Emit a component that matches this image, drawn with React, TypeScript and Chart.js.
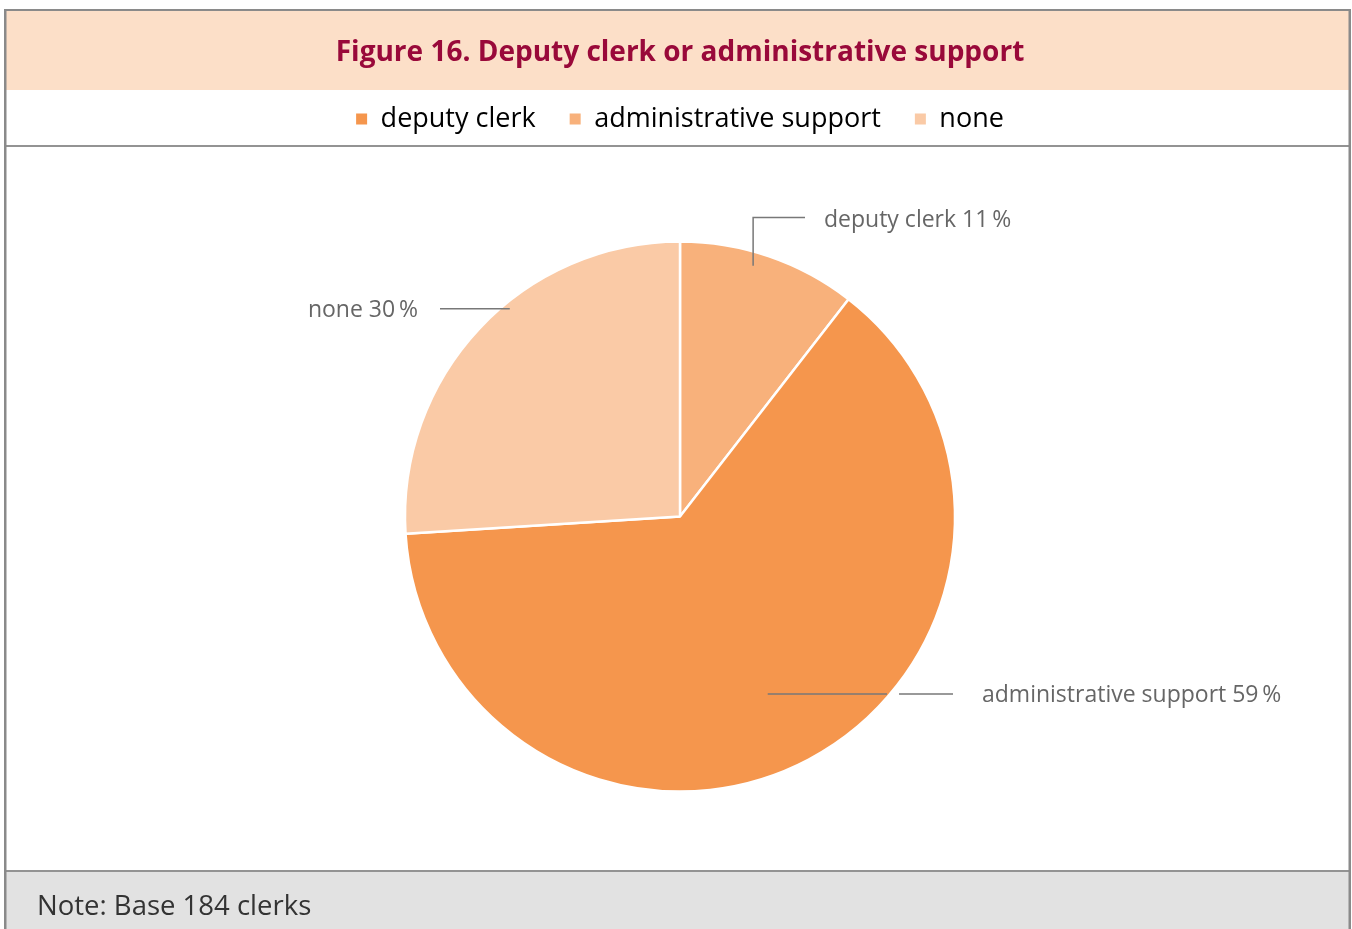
import React, { useEffect, useRef } from 'react';
import { Chart, registerables } from 'chart.js';

Chart.register(...registerables);

// ---- data ----
const categories = ['deputy clerk', 'administrative support', 'none'];
const shares = [10.5, 63.5, 26]; // slice sizes as drawn
const shareLabels = ['11\u2009%', '59\u2009%', '30\u2009%']; // printed labels
const sliceColors = ['#F8B17B', '#F5964D', '#FACAA6'];
const legendColors = ['#F5964D', '#F8B17B', '#FACAA6'];
const titleText = 'Figure 16. Deputy clerk or administrative support';
const noteText = 'Note: Base 184 clerks';

const FONT = "'Open Sans', 'Noto Sans', sans-serif";

const framePlugin = {
  id: 'frame',
  beforeDraw(chart: any) {
    const { ctx, width, height } = chart;
    ctx.save();
    ctx.fillStyle = '#ffffff';
    ctx.fillRect(0, 0, width, height);
    ctx.fillStyle = '#FCDFC8';
    ctx.fillRect(6, 11, 1343, 79);
    ctx.fillStyle = '#E2E2E2';
    ctx.fillRect(6, 871, 1343, 58);
    ctx.fillStyle = '#939393';
    ctx.fillRect(6, 145, 1343, 2);
    ctx.fillRect(6, 870, 1343, 2);
    ctx.fillStyle = '#8a8a8a';
    ctx.fillRect(4, 9, 1347, 2);
    ctx.fillRect(4, 9, 2.5, height - 9);
    ctx.fillRect(1348.5, 9, 2.5, height - 9);
    ctx.restore();
  },
};

const leaderSpecs = [
  { t: 0.43, rf: 0.95, kind: 'up' },
  { t: 0.507, rf: 0.72, kind: 'right' },
  { t: 0.58, rf: 0.977, kind: 'left' },
];

const leaderPlugin = {
  id: 'leaders',
  afterDatasetsDraw(chart: any) {
    const { ctx } = chart;
    const meta = chart.getDatasetMeta(0);
    ctx.save();
    ctx.strokeStyle = '#787878';
    ctx.lineWidth = 1.5;
    ctx.fillStyle = '#666666';
    ctx.font = `23px ${FONT}`;
    ctx.textBaseline = 'middle';
    meta.data.forEach((arc: any, i: number) => {
      const p = arc.getProps(['x', 'y', 'startAngle', 'endAngle', 'outerRadius'], true);
      const spec = leaderSpecs[i];
      const cx = p.x, cy = p.y, r = p.outerRadius;
      const a = p.startAngle + spec.t * (p.endAngle - p.startAngle);
      const ax = cx + Math.cos(a) * r * spec.rf;
      const ay = cy + Math.sin(a) * r * spec.rf;
      const label = `${categories[i]} ${shareLabels[i]}`;
      ctx.beginPath();
      if (spec.kind === 'up') {
        const ey = cy - r - 24;
        ctx.moveTo(ax, ay);
        ctx.lineTo(ax, ey);
        ctx.lineTo(cx + 125, ey);
        ctx.stroke();
        ctx.textAlign = 'left';
        ctx.fillText(label, cx + 144, ey + 2.5);
      } else if (spec.kind === 'right') {
        const edge = cx + Math.sqrt(Math.max(r * r - (ay - cy) * (ay - cy), 0));
        ctx.moveTo(ax, ay);
        ctx.lineTo(edge - 3, ay);
        ctx.moveTo(edge + 9, ay);
        ctx.lineTo(cx + 273, ay);
        ctx.stroke();
        ctx.textAlign = 'left';
        ctx.fillText(label, cx + 302, ay + 1.5);
      } else {
        ctx.moveTo(ax, ay);
        ctx.lineTo(cx - 240, ay);
        ctx.stroke();
        ctx.textAlign = 'right';
        ctx.fillText(label, cx - 262, ay + 2);
      }
    });
    ctx.restore();
  },
};

export default function App() {
  const ref = useRef<HTMLCanvasElement | null>(null);

  useEffect(() => {
    if (!ref.current) return;
    const chart = new Chart(ref.current, {
      type: 'pie',
      data: {
        labels: categories,
        datasets: [
          {
            data: shares,
            backgroundColor: sliceColors,
            borderColor: '#ffffff',
            borderWidth: 2.5,
            radius: 275,
          } as any,
        ],
      },
      options: {
        animation: false,
        responsive: true,
        maintainAspectRatio: false,
        layout: { padding: { left: 37, right: 29, top: 11, bottom: 0 } },
        plugins: {
          title: {
            display: true,
            text: titleText,
            color: '#99093A',
            font: { family: FONT, size: 28, weight: 'bold', lineHeight: 1.2 },
            padding: { top: 25, bottom: 2 },
          },
          legend: {
            display: true,
            position: 'top',
            onClick: () => {},
            labels: {
              boxWidth: 11,
              boxHeight: 11,
              padding: 34,
              color: '#333333',
              font: { family: FONT, size: 27 },
              generateLabels: () =>
                categories.map((c, i) => ({
                  text: c,
                  fillStyle: legendColors[i],
                  strokeStyle: legendColors[i],
                  lineWidth: 0,
                  hidden: false,
                  index: i,
                  datasetIndex: 0,
                })),
            },
          },
          subtitle: {
            display: true,
            position: 'bottom',
            align: 'start',
            text: noteText,
            color: '#333333',
            font: { family: FONT, size: 27.5, lineHeight: 1.0 },
            padding: { top: 3, bottom: 8 },
          },
          tooltip: { enabled: false },
        },
      } as any,
      plugins: [framePlugin, leaderPlugin],
    });
    return () => chart.destroy();
  }, []);

  return (
    <div style={{ position: 'absolute', left: 0, top: 0, width: 1352, height: 929 }}>
      <canvas ref={ref} />
    </div>
  );
}
